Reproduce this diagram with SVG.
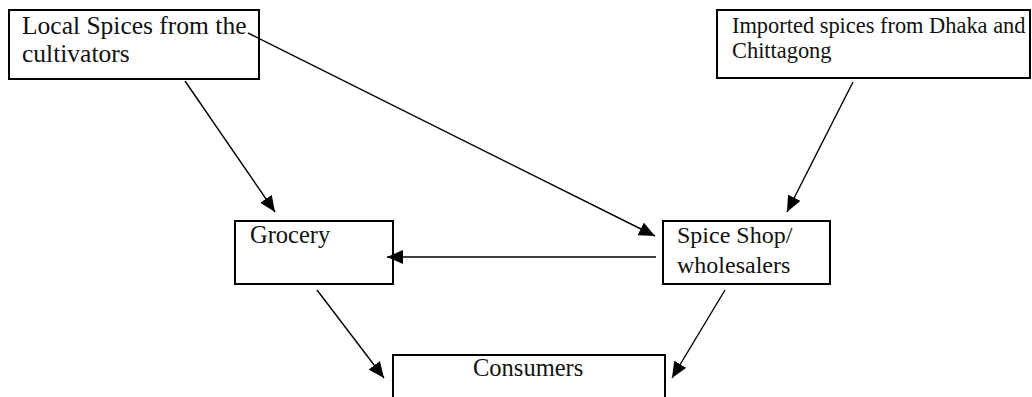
<svg xmlns="http://www.w3.org/2000/svg" width="1032" height="397" viewBox="0 0 1032 397">
<style>
.box{fill:#fff;stroke:#000;stroke-width:2}
.t{font-family:"Liberation Serif","Times New Roman",serif;fill:#111}
.c{stroke:#000;stroke-width:1.4;fill:none;marker-end:url(#ah)}
</style>
<defs>
<marker id="ah" markerUnits="userSpaceOnUse" markerWidth="18" markerHeight="14" refX="16" refY="7" orient="auto">
<path d="M0,0 L16,7 L0,14 Z" fill="#000"/>
</marker>
</defs>
<rect width="1032" height="397" fill="#fff"/>
<g id="local">
<rect class="box" x="9" y="10" width="250" height="69"/>
<text class="t" x="22" y="34" font-size="25.5">Local Spices from the</text>
<text class="t" x="22" y="62" font-size="25.5">cultivators</text>
</g>
<g id="imported">
<rect class="box" x="717" y="10" width="313" height="68"/>
<text class="t" x="732" y="33" font-size="22.4">Imported spices from Dhaka and</text>
<text class="t" x="732" y="58" font-size="22.4">Chittagong</text>
</g>
<g id="grocery">
<rect class="box" x="235" y="221" width="158" height="63"/>
<text class="t" x="250" y="243" font-size="24.5">Grocery</text>
</g>
<g id="spiceshop">
<rect class="box" x="663" y="221" width="167" height="63"/>
<text class="t" x="677" y="243" font-size="24">Spice Shop/</text>
<text class="t" x="677" y="273" font-size="24">wholesalers</text>
</g>
<g id="consumers">
<rect class="box" x="393" y="355" width="272" height="50"/>
<text class="t" x="473" y="376" font-size="24.5">Consumers</text>
</g>
<g id="connectors">
<line class="c" x1="248" y1="33" x2="655" y2="236"/>
<line class="c" x1="185" y1="81" x2="275" y2="212"/>
<line class="c" x1="853" y1="82" x2="787" y2="212"/>
<line class="c" x1="656" y1="257" x2="387" y2="257"/>
<line class="c" x1="317" y1="290" x2="384" y2="378"/>
<line class="c" x1="725" y1="290" x2="672" y2="378"/>
</g>
</svg>
